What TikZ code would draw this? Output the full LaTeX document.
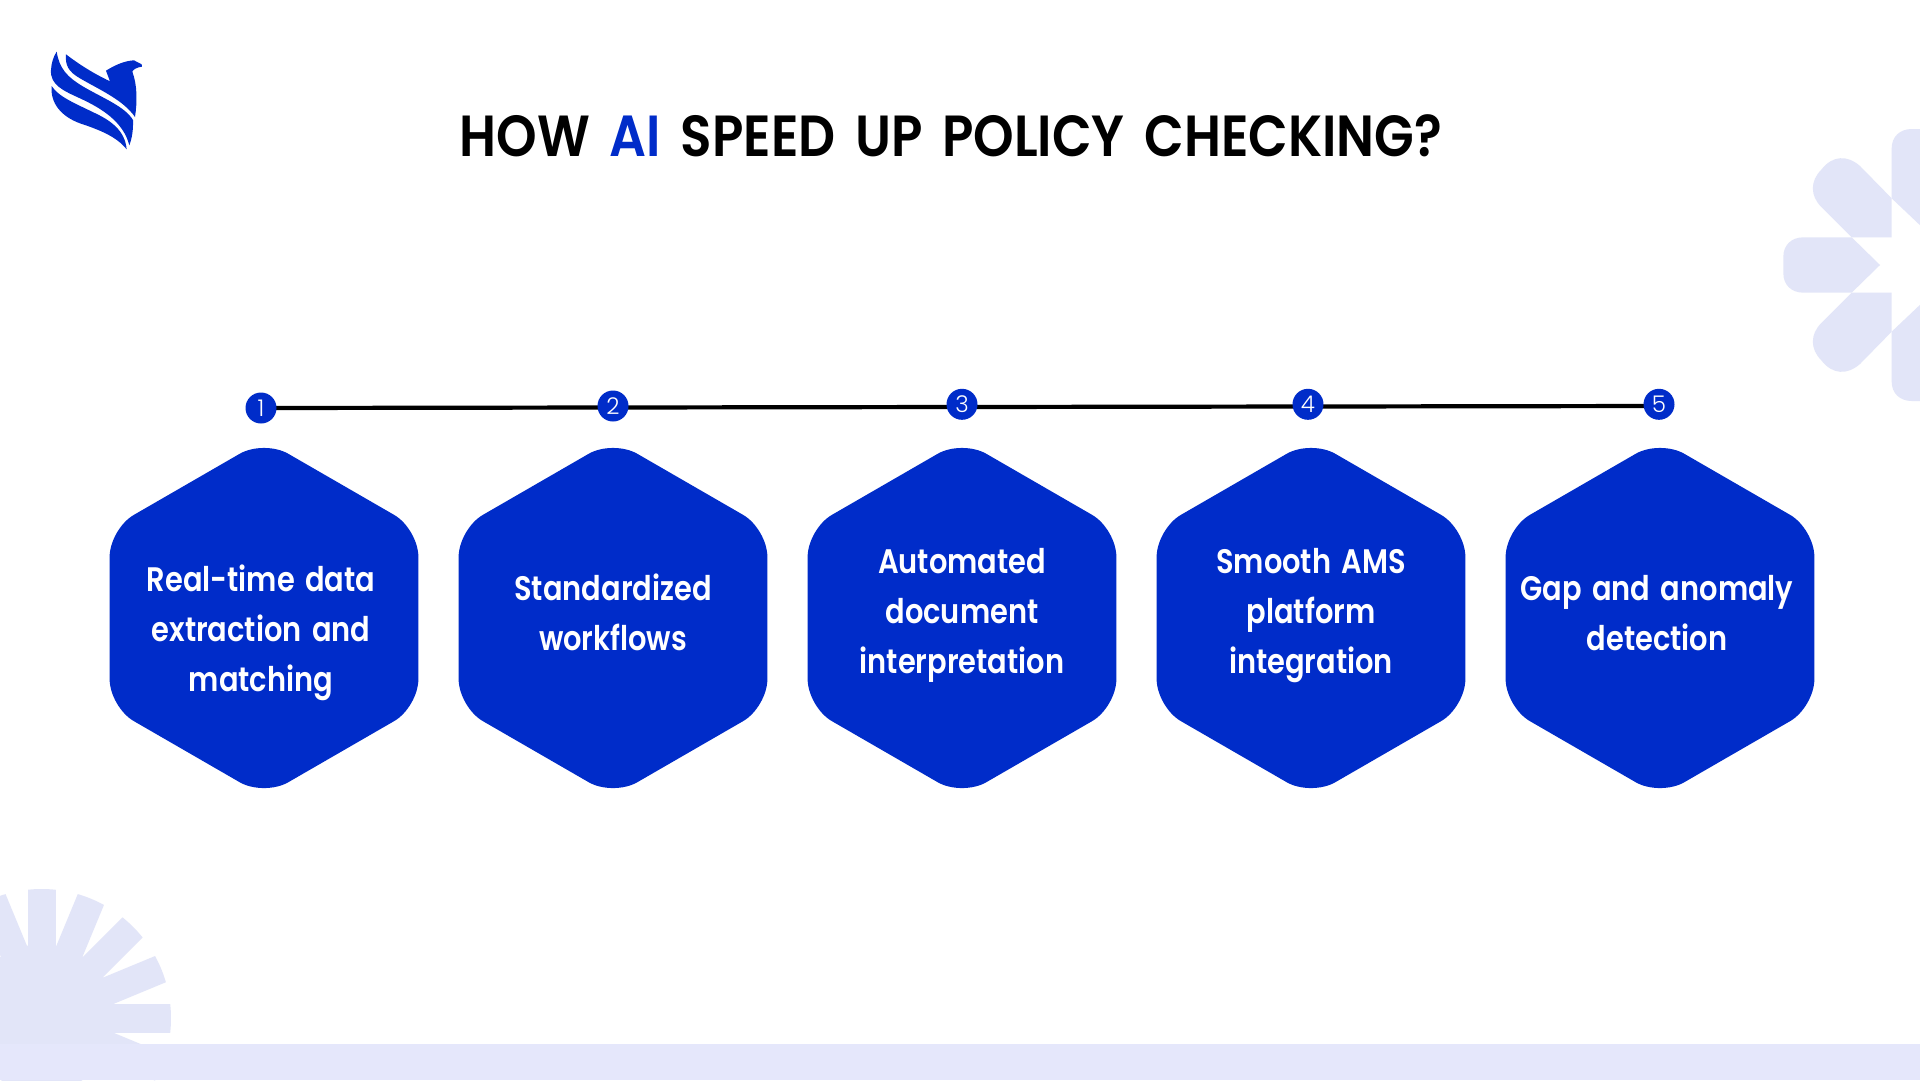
\documentclass[tikz,border=0pt]{standalone}
\usepackage{fontspec}
\setmainfont{Poppins}
\newfontfamily\titlefont{Poppins SemiBold}[FakeStretch=0.89,WordSpace=1.6]
\newfontfamily\hexfont{Poppins SemiBold}[FakeStretch=0.85,WordSpace=1.5]
\newfontfamily\numfont{Poppins Light}
\usetikzlibrary{shapes.geometric,backgrounds}
\definecolor{brandblue}{HTML}{002CC9}
\definecolor{palepetal}{HTML}{E2E5F8}
\definecolor{paleband}{HTML}{E5E7FB}
\tikzset{
	hexbox/.style={regular polygon, regular polygon sides=6, shape border rotate=30, minimum size=356.5pt, inner sep=0pt, fill=brandblue, rounded corners=28pt},
	hextext/.style={text=white, align=center, font=\hexfont\fontsize{34}{50}\selectfont},
	numdot/.style={circle, minimum size=31pt, inner sep=0pt, fill=brandblue, text=white, font=\numfont\fontsize{23}{23}\selectfont},
	petal/.style={fill=palepetal, draw=none}
}
\begin{document}
\begin{tikzpicture}[x=1pt,y=-1pt]

	\useasboundingbox (0,0) rectangle (1920,1080);
	\clip (0,0) rectangle (1920,1080);

	\begin{scope}[shift={(125/3,870+445/3)},x=1/3*1pt,y=-1/3*1pt]
		\clip (0,0) circle (388);
		\fill[petal] (0,0) circle (222);
		\fill[petal] (0,-42.5) rectangle (400,42.5);
		\fill[petal,rotate=22.5] (0,-42.5) rectangle (400,42.5);
		\fill[petal,rotate=45] (0,-42.5) rectangle (400,42.5);
		\fill[petal,rotate=67.5] (0,-42.5) rectangle (400,42.5);
		\fill[petal,rotate=90] (0,-42.5) rectangle (400,42.5);
		\fill[petal,rotate=112.5] (0,-42.5) rectangle (400,42.5);
		\fill[petal,rotate=-22.5] (0,-42.5) rectangle (400,42.5);
	\end{scope}
	\fill[paleband] (0,1044) rectangle (1920,1080);

	\begin{scope}[shift={(1760,110)},x=1/3*1pt,y=-1/3*1pt]
		\fill[petal] (360,465) -- (275,382) -- (130,382) .. controls (95,382) and (70,405) .. (70,440) -- (70,490) .. controls (70,525) and (95,548) .. (130,548) -- (275,548) -- cycle;
		\fill[petal] (395,382) -- (275,382) -- (184,291) .. controls (150,257) and (150,213) .. (184,179) .. controls (218,135) and (262,135) .. (300,168) -- (395,265) -- cycle;
		\fill[petal] (395,548) -- (275,548) -- (184,639) .. controls (150,673) and (150,717) .. (184,751) .. controls (218,795) and (262,795) .. (300,762) -- (395,665) -- cycle;
		\fill[petal] (395,265) -- (395,115) .. controls (395,80) and (420,57) .. (455,57) -- (490,57) -- (490,355) -- cycle;
		\fill[petal] (395,665) -- (395,815) .. controls (395,850) and (420,873) .. (455,873) -- (490,873) -- (490,575) -- cycle;
	\end{scope}

	\begin{scope}[shift={(0,20)},x=1/3*1pt,y=-1/3*1pt]
		\fill[brandblue] (198,103) .. controls (240,135) and (280,160) .. (330,184) -- (318,152) .. controls (345,135) and (375,122) .. (402,121) -- (425,133) -- (426,140) .. controls (410,142) and (400,148) .. (397,155) .. controls (412,195) and (412,245) .. (405,291) .. controls (370,240) and (300,210) .. (240,175) .. controls (205,155) and (195,135) .. (198,103) -- cycle;
		\fill[brandblue] (170,95) .. controls (178,145) and (200,170) .. (250,200) .. controls (310,235) and (375,260) .. (399,300) .. controls (400,330) and (396,355) .. (388,376) .. controls (370,305) and (305,265) .. (240,235) .. controls (190,212) and (150,195) .. (153,150) .. controls (154,130) and (160,110) .. (170,95) -- cycle;
		\fill[brandblue] (155,198) .. controls (175,230) and (225,250) .. (280,277) .. controls (330,300) and (375,330) .. (380,388) .. controls (350,350) and (300,330) .. (240,310) .. controls (185,290) and (150,250) .. (155,198) -- cycle;
	\end{scope}

	\node[font=\titlefont\fontsize{58}{58}\selectfont, text=black] (Title) at (951,136) {HOW \textcolor{brandblue}{AI} SPEED UP POLICY CHECKING?};

	\node[hexbox] (Hex1) at (264,618) {};
	\node[hexbox] (Hex2) at (613,618) {};
	\node[hexbox] (Hex3) at (962,618) {};
	\node[hexbox] (Hex4) at (1311,618) {};
	\node[hexbox] (Hex5) at (1660,618) {};

	\node[hextext] (Text1) at (261,633) {Real-time data\\extraction and\\matching};
	\node[hextext] (Text2) at (613,612) {Standardized\\workflows};
	\node[hextext] (Text3) at (962,615) {Automated\\document\\interpretation};
	\node[hextext] (Text4) at (1311,615.5) {Smooth AMS\\platform\\integration};
	\node[hextext] (Text5) at (1657,613) {Gap and anomaly\\detection};

	\node[numdot] (Num1) at (261,408) {1};
	\node[numdot] (Num2) at (613,406) {2};
	\node[numdot] (Num3) at (962,404.3) {3};
	\node[numdot] (Num4) at (1308,404.3) {4};
	\node[numdot] (Num5) at (1659,404.3) {5};

	\coordinate (LineEnd) at (1659,406);
	\begin{pgfonlayer}{background}
		\fill[white] (0,0) rectangle (1920,1080);
		\draw[line width=4.2pt, black] (Num1.center) -- (LineEnd);
	\end{pgfonlayer}

\end{tikzpicture}
\end{document}
